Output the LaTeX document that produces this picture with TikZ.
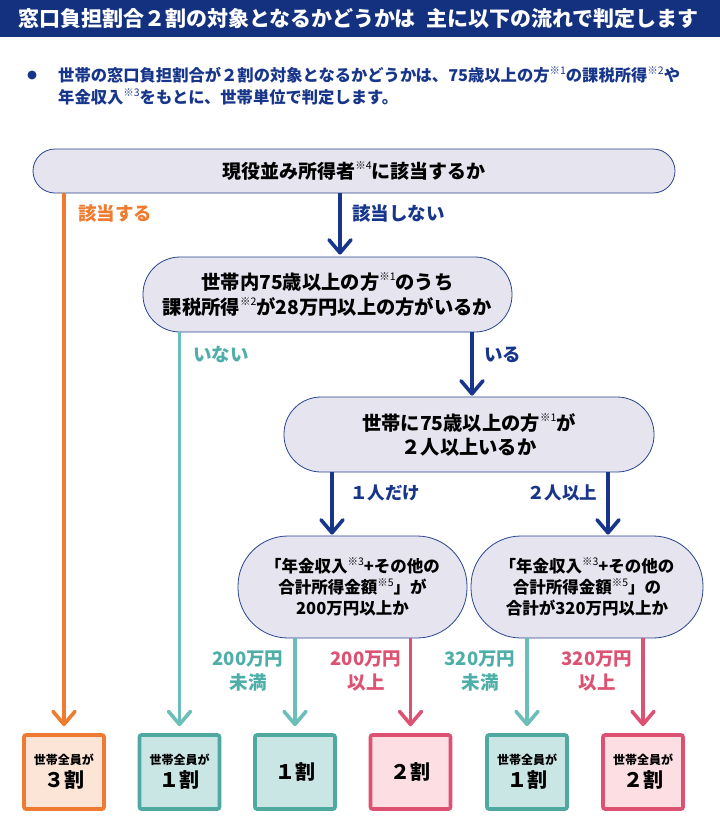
\documentclass[tikz,border=0pt]{standalone}
\usepackage{fontspec}
\setmainfont{Noto Sans CJK JP}
\usetikzlibrary{arrows.meta}
\definecolor{navy}{HTML}{17358A}
\definecolor{headbg}{HTML}{14317F}
\definecolor{pillfill}{HTML}{E5E4EF}
\definecolor{pillline}{HTML}{2A4490}
\definecolor{orng}{HTML}{EE7B30}
\definecolor{orngfill}{HTML}{FCE4D6}
\definecolor{tealline}{HTML}{6CBFB9}
\definecolor{tealtext}{HTML}{4FAFA8}
\definecolor{tealbox}{HTML}{4EA9A1}
\definecolor{tealfill}{HTML}{C9E6E5}
\definecolor{pnk}{HTML}{DD5272}
\definecolor{pnkfill}{HTML}{FDDFE3}
\newcommand\refm[1]{\raisebox{0.45em}{\fontsize{10.5}{10.5}\selectfont\mdseries #1}}
\newcommand\smtxt[1]{{\fontsize{12}{12}\selectfont\bfseries #1}}
\newcommand\bigtxt[1]{{\fontsize{20}{24}\selectfont\bfseries #1}}
\tikzset{
  pill/.style={draw=pillline, fill=pillfill, line width=0.8pt, align=center, inner sep=0pt, text=black},
  result/.style={line width=3.6pt, rounded corners=2pt, minimum width=80pt, minimum height=74pt, inner sep=0pt, align=center, text=black, font=\fontsize{12}{23}\selectfont\bfseries},
  arr/.style={line width=3.6pt, -{Straight Barb[length=13pt,width=22pt,round]}},
  lbl/.style={anchor=west, inner sep=0pt, font=\fontsize{18.5}{18.5}\selectfont\bfseries},
  lbl2/.style={align=center, inner sep=0pt, font=\fontsize{18.5}{24}\selectfont\bfseries},
}
\begin{document}
\begin{tikzpicture}[x=1pt,y=-1pt]
\useasboundingbox (0,0) rectangle (720,817);
% header
\fill[headbg] (0,0) rectangle (720,37);
\node[anchor=west, inner sep=0pt, text=white, font=\fontsize{21}{21}\selectfont\bfseries] (title) at (18,19) {窓口負担割合２割の対象となるかどうかは\hspace{0.5em}主に以下の流れで判定します};
% bullet
\node[circle, fill=navy, minimum size=9pt, inner sep=0pt] (dot) at (32,75) {};
\node[anchor=west, align=left, inner sep=0pt, text=navy, font=\fontsize{16.3}{22}\selectfont\bfseries] (intro) at (58,86)
  {世帯の窓口負担割合が２割の対象となるかどうかは、75歳以上の方\refm{※1}の課税所得\refm{※2}や\\年金収入\refm{※3}をもとに、世帯単位で判定します。};
% decision pills
\node[pill, minimum width=642pt, minimum height=44pt, rounded corners=22pt, font=\fontsize{19}{19}\selectfont\bfseries] (b1) at (354,171)
  {現役並み所得者\refm{※4}に該当するか};
\node[pill, minimum width=369pt, minimum height=75pt, rounded corners=37pt, font=\fontsize{19.3}{25}\selectfont\bfseries] (b2) at (327.5,294.5)
  {世帯内75歳以上の方\refm{※1}のうち\\課税所得\refm{※2}が28万円以上の方がいるか};
\node[pill, minimum width=370pt, minimum height=75pt, rounded corners=37pt, font=\fontsize{19.3}{24}\selectfont\bfseries] (b3) at (469,434.5)
  {世帯に75歳以上の方\refm{※1}が\\２人以上いるか};
\node[pill, minimum width=229pt, minimum height=102pt, rounded corners=50pt, font=\fontsize{16.5}{21}\selectfont\bfseries] (b4) at (352.5,587)
  {「年金収入\refm{※3}+その他の\\合計所得金額\refm{※5}」が\\200万円以上か};
\node[pill, minimum width=232pt, minimum height=102pt, rounded corners=50pt, font=\fontsize{16.5}{21}\selectfont\bfseries] (b5) at (587,587)
  {「年金収入\refm{※3}+その他の\\合計所得金額\refm{※5}」の\\合計が320万円以上か};
% result boxes
\node[result, draw=orng, fill=orngfill] (rA) at (64,772) {\smtxt{世帯全員が}\\\bigtxt{３割}};
\node[result, draw=tealbox, fill=tealfill] (rB) at (179.5,772) {\smtxt{世帯全員が}\\\bigtxt{１割}};
\node[result, draw=tealbox, fill=tealfill] (rC) at (295,772) {\bigtxt{１割}};
\node[result, draw=pnk, fill=pnkfill] (rD) at (410.5,772) {\bigtxt{２割}};
\node[result, draw=tealbox, fill=tealfill] (rE) at (527,772) {\smtxt{世帯全員が}\\\bigtxt{１割}};
\node[result, draw=pnk, fill=pnkfill] (rF) at (643,772) {\smtxt{世帯全員が}\\\bigtxt{２割}};
% x positions
\coordinate (x12) at (340,0);
\coordinate (x23) at (472,0);
\coordinate (x34) at (332,0);
\coordinate (x35) at (608,0);
% connectors
\draw[arr, orng, shorten >=7pt] (b1.south -| rA) -- (rA.north);
\draw[arr, navy, shorten >=2pt] (b1.south -| x12) -- (b2.north -| x12);
\draw[arr, tealline, shorten >=7pt] (b2.south -| rB) -- (rB.north);
\draw[arr, navy, shorten >=1pt] (b2.south -| x23) -- (b3.north -| x23);
\draw[arr, navy, shorten >=1pt] (b3.south -| x34) -- (b4.north -| x34);
\draw[arr, navy, shorten >=1pt] (b3.south -| x35) -- (b5.north -| x35);
\draw[arr, tealline, shorten >=7pt] (b4.south -| rC) -- (rC.north);
\draw[arr, pnk, shorten >=7pt] (b4.south -| rD) -- (rD.north);
\draw[arr, tealline, shorten >=7pt] (b5.south -| rE) -- (rE.north);
\draw[arr, pnk, shorten >=7pt] (b5.south -| rF) -- (rF.north);
% labels
\node[lbl, text=orng] (l1) at (78,213) {該当する};
\node[lbl, text=navy] (l2) at (352,213) {該当しない};
\node[lbl, text=tealtext] (l3) at (193,355) {いない};
\node[lbl, text=navy] (l4) at (484,355) {いる};
\node[lbl, text=navy, font=\fontsize{17.5}{17.5}\selectfont\bfseries] (l5) at (350,493) {１人だけ};
\node[lbl, text=navy, font=\fontsize{17.5}{17.5}\selectfont\bfseries] (l6) at (527,493) {２人以上};
\node[lbl2, text=tealtext] (l7) at (248,671) {200万円\\未満};
\node[lbl2, text=pnk] (l8) at (366,671) {200万円\\以上};
\node[lbl2, text=tealtext] (l9) at (480,671) {320万円\\未満};
\node[lbl2, text=pnk] (l10) at (597,671) {320万円\\以上};
\end{tikzpicture}
\end{document}
